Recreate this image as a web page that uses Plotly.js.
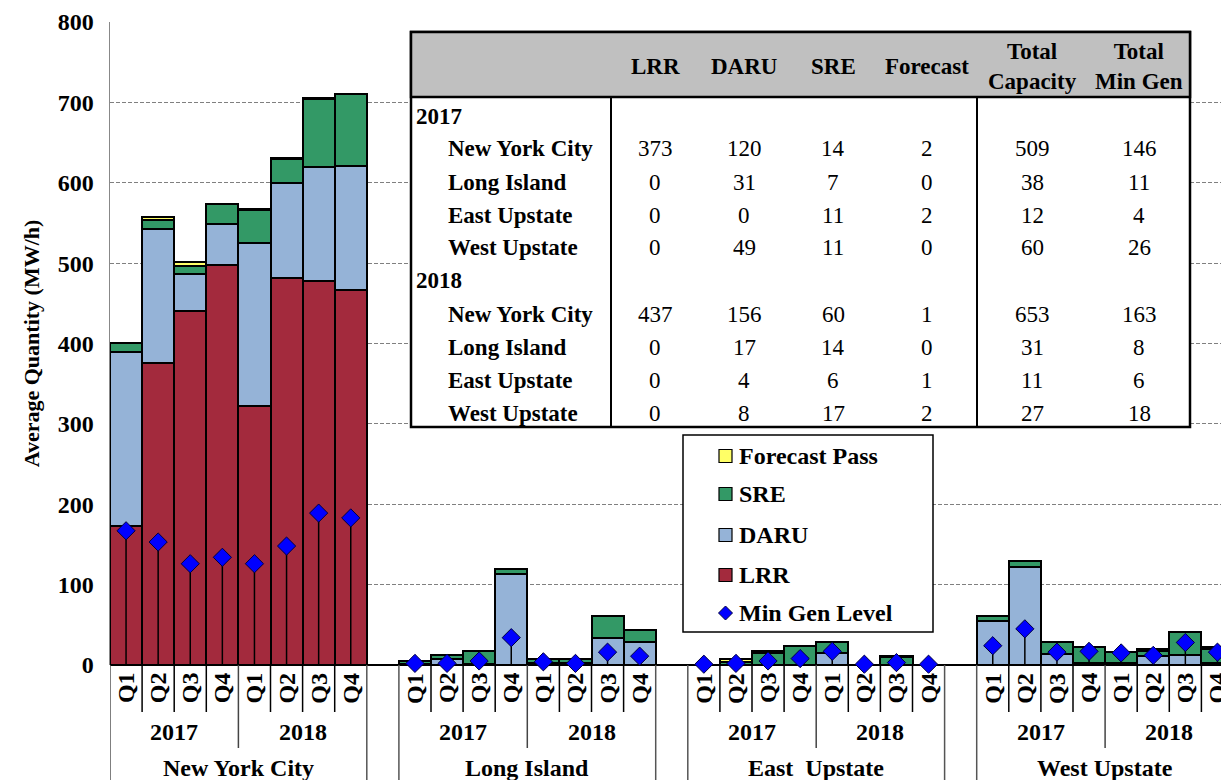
<!DOCTYPE html>
<html><head><meta charset="utf-8">
<script src="https://cdn.plot.ly/plotly-3.0.1.min.js"></script>
<style>html,body{margin:0;padding:0;overflow:hidden;background:#fff}</style>
</head><body><div id="chart" style="width:1221px;height:780px"></div>
<script>
// ---- data ----
const regions = ["New York City", "Long Island", "East\u00a0 Upstate", "West Upstate"];
const years = ["2017", "2018"];
const quarters = ["Q1", "Q2", "Q3", "Q4"];
// values per region: 2017 Q1..Q4, 2018 Q1..Q4
const lrr = [173, 376, 440, 498, 322, 481, 478, 466,
             0, 0, 0, 0, 0, 0, 0, 0,
             0, 0, 0, 0, 0, 0, 0, 0,
             0, 0, 0, 0, 0, 0, 0, 0];
const daru = [217, 166, 46, 51, 203, 119, 141, 155,
              1, 7, 1, 113, 2, 2, 34, 29,
              0, 0, 0, 0, 15, 0, 0, 0,
              55, 122, 14, 2, 2, 11, 12, 3];
const sre = [11, 12, 10, 25, 41, 30, 85, 89,
             4, 6, 16, 6, 6, 6, 27, 15,
             0, 4, 15, 24, 14, 0, 10, 0,
             6, 7, 15, 20, 14, 6, 29, 17];
const forecastPass = [0, 3, 5, 0, 1, 1, 1, 1,
                      0, 0, 0, 0, 0, 0, 0, 0,
                      0, 3, 3, 0, 0, 0, 1, 0,
                      0, 0, 0, 0, 0, 3, 0, 3];
const minGen = [167, 153, 126, 134, 126, 148, 189, 183,
                2, 2, 5, 34, 4, 2, 16, 11,
                1, 2, 5, 8, 17, 1, 3, 1,
                24, 45, 16, 17, 15, 12, 28, 16];
const yTicks = [0, 100, 200, 300, 400, 500, 600, 700, 800];

const tableColumns = ["LRR", "DARU", "SRE", "Forecast", "Total<br>Capacity", "Total<br>Min Gen"];
const tableRegions = ["New York City", "Long Island", "East Upstate", "West Upstate"];
const table2017 = [[373, 120, 14, 2, 509, 146], [0, 31, 7, 0, 38, 11], [0, 0, 11, 2, 12, 4], [0, 49, 11, 0, 60, 26]];
const table2018 = [[437, 156, 60, 1, 653, 163], [0, 17, 14, 0, 31, 8], [0, 4, 6, 1, 11, 6], [0, 8, 17, 2, 27, 18]];

const legendItems = ["Forecast Pass", "SRE", "DARU", "LRR", "Min Gen Level"];

// ---- styling ----
const FONT = "Liberation Serif, Times New Roman, serif";
const C_LRR = "#A32A3D", C_DARU = "#95B3D7", C_SRE = "#339966", C_FP = "#FFFF66", C_MG = "#0000FF";
const PL = 110, PR = 1221, PT = 22, PB = 665;
const px = v => (v - PL) / (PR - PL);
const py = v => (PB - v) / (PB - PT);

const slotX = [];
regions.forEach((r, ri) => { for (let i = 0; i < 8; i++) slotX.push(ri * 9 + i); });

const barLine = {color: "#000", width: 2};
function barTrace(name, vals, color) {
  return {type: "bar", name: name, x: slotX, y: vals, width: 1,
    marker: {color: color, line: barLine}, showlegend: false, hoverinfo: "skip"};
}
const traces = [
  barTrace("LRR", lrr, C_LRR),
  barTrace("DARU", daru, C_DARU),
  barTrace("SRE", sre, C_SRE),
  barTrace("Forecast Pass", forecastPass, C_FP),
  {type: "scatter", mode: "markers", name: "Min Gen Level", x: slotX, y: minGen,
   marker: {symbol: "diamond", size: 14, color: C_MG, line: {color: "#000040", width: 1}},
   error_y: {type: "data", symmetric: false, array: minGen.map(() => 0), arrayminus: minGen,
             width: 0, color: "#000", thickness: 1.5},
   cliponaxis: false, showlegend: false, hoverinfo: "skip"}
];

const shapes = [];
const annotations = [];
const bold = (size) => ({family: FONT, size: size, color: "#000", weight: "bold"});
const reg = (size) => ({family: FONT, size: size, color: "#000"});

// category axis
regions.forEach((r, ri) => {
  for (let k = 0; k <= 8; k++) {
    const xb = ri * 9 + k - 0.5;
    let yEnd = py(712), col = "#000", w = 1.5;
    if (k === 0 || k === 8) { yEnd = py(790); col = "#555"; w = 1.5; }
    else if (k === 4) { yEnd = py(748); col = "#444"; w = 1.5; }
    shapes.push({type: "line", xref: "x", yref: "paper", x0: xb, x1: xb, y0: 0, y1: yEnd,
                 line: {color: col, width: w}, layer: "above"});
  }
  for (let i = 0; i < 8; i++) {
    annotations.push({xref: "x", yref: "paper", x: ri * 9 + i, y: py(688), text: quarters[i % 4],
      textangle: -90, showarrow: false, font: bold(24), xanchor: "center", yanchor: "middle"});
  }
  years.forEach((yr, yi) => {
    annotations.push({xref: "x", yref: "paper", x: ri * 9 + 1.5 + yi * 4, y: py(732), text: yr,
      showarrow: false, font: bold(24), xanchor: "center", yanchor: "middle"});
  });
  annotations.push({xref: "x", yref: "paper", x: ri * 9 + 3.5, y: py(768), text: regions[ri],
    showarrow: false, font: bold(24), xanchor: "center", yanchor: "middle"});
});

// table
const TL = 411, TR = 1190, TT = 32, TB = 427, TH = 97;
shapes.push({type: "rect", xref: "paper", yref: "paper", x0: px(TL), x1: px(TR), y0: py(TB), y1: py(TT),
  fillcolor: "#fff", line: {color: "#000", width: 2.5}, layer: "above"});
shapes.push({type: "rect", xref: "paper", yref: "paper", x0: px(TL), x1: px(TR), y0: py(TH), y1: py(TT),
  fillcolor: "#C0C0C0", line: {color: "#000", width: 2.5}, layer: "above"});
[611, 977].forEach(xv => shapes.push({type: "line", xref: "paper", yref: "paper",
  x0: px(xv), x1: px(xv), y0: py(TB), y1: py(TH), line: {color: "#000", width: 2}, layer: "above"}));
const colCenters = [655, 744, 833, 927, 1032, 1139];
tableColumns.forEach((c, ci) => {
  annotations.push({xref: "paper", yref: "paper", x: px(colCenters[ci]), y: py(67), text: c,
    showarrow: false, font: bold(23), xanchor: "center", yanchor: "middle", align: "center"});
});
const rowStep = 33;
[[years[0], table2017, 116], [years[1], table2018, 281]].forEach(([yr, tbl, y0]) => {
  annotations.push({xref: "paper", yref: "paper", x: px(414), y: py(y0), text: yr,
    showarrow: false, font: bold(23), xanchor: "left", yanchor: "middle"});
  tbl.forEach((row, ri) => {
    const yy = y0 + rowStep * (ri + 1);
    annotations.push({xref: "paper", yref: "paper", x: px(446), y: py(yy), text: tableRegions[ri],
      showarrow: false, font: bold(23), xanchor: "left", yanchor: "middle"});
    row.forEach((v, ci) => {
      annotations.push({xref: "paper", yref: "paper", x: px(colCenters[ci]), y: py(yy), text: String(v),
        showarrow: false, font: reg(23), xanchor: "center", yanchor: "middle"});
    });
  });
});

// legend box
shapes.push({type: "rect", xref: "paper", yref: "paper", x0: px(683), x1: px(933), y0: py(632), y1: py(435),
  fillcolor: "#fff", line: {color: "#000", width: 1.5}, layer: "above"});
const legColors = [C_FP, C_SRE, C_DARU, C_LRR];
const legY = [456, 494, 535, 575, 613];
legendItems.forEach((name, i) => {
  const yc = legY[i];
  if (i < 4) {
    shapes.push({type: "rect", xref: "paper", yref: "paper", x0: px(719), x1: px(732), y0: py(yc + 6.5), y1: py(yc - 6.5),
      fillcolor: legColors[i], line: {color: "#000", width: 1.2}, layer: "above"});
  } else {
    const cx = 725.5, r = 7;
    const pth = `M${px(cx)},${py(yc - r)} L${px(cx + r)},${py(yc)} L${px(cx)},${py(yc + r)} L${px(cx - r)},${py(yc)} Z`;
    shapes.push({type: "path", xref: "paper", yref: "paper", path: pth,
      fillcolor: C_MG, line: {color: "#000040", width: 1}, layer: "above"});
  }
  annotations.push({xref: "paper", yref: "paper", x: px(737), y: py(yc), text: name,
    showarrow: false, font: bold(24), xanchor: "left", yanchor: "middle"});
});

const layout = {
  width: 1221, height: 780,
  margin: {l: PL, r: 0, t: PT, b: 780 - PB, pad: 0},
  paper_bgcolor: "#fff", plot_bgcolor: "#fff",
  barmode: "stack", bargap: 0,
  showlegend: false,
  font: {family: FONT, color: "#000"},
  xaxis: {range: [-0.5, -0.5 + (PR - PL) / 32.1], showticklabels: false, showgrid: false,
          zeroline: false, showline: false, ticks: "", fixedrange: true},
  yaxis: {range: [0, 800], tickvals: yTicks, ticktext: yTicks.map(String),
          tickfont: bold(24), showgrid: true, gridcolor: "#808080", griddash: "4px,2px", gridwidth: 1,
          zeroline: true, zerolinecolor: "#000", zerolinewidth: 2,
          showline: true, linecolor: "#888", linewidth: 1.5,
          ticks: "outside", ticklen: 10, tickcolor: "rgba(0,0,0,0)",
          title: {text: "Average Quantity (MW/h)", font: bold(22), standoff: 12},
          fixedrange: true},
  shapes: shapes,
  annotations: annotations
};
Plotly.newPlot("chart", traces, layout, {displayModeBar: false, staticPlot: true});
</script></body></html>
